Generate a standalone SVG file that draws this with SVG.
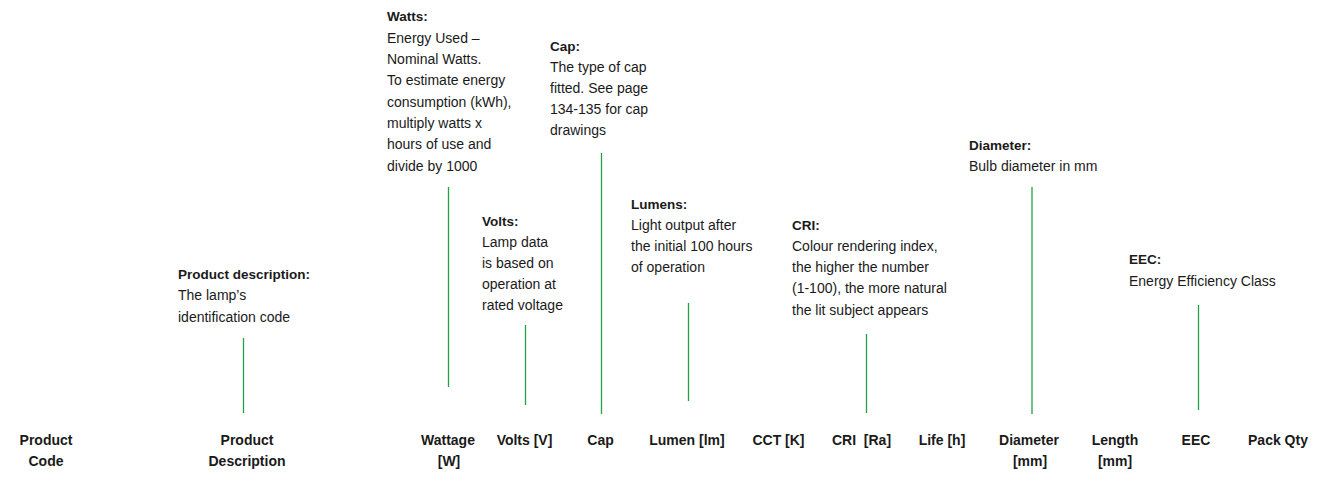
<svg xmlns="http://www.w3.org/2000/svg" width="1322" height="489" viewBox="0 0 1322 489">
<style>
.t{font-family:"Liberation Sans",Arial,sans-serif;font-size:13.5px;font-weight:bold;fill:#1a1a1a}
.d{font-family:"Liberation Sans",Arial,sans-serif;font-size:14px;fill:#1a1a1a}
.h{font-family:"Liberation Sans",Arial,sans-serif;font-size:14px;font-weight:bold;fill:#1a1a1a;text-anchor:middle}
.c{stroke:#22a045;stroke-width:1.3;fill:none}
</style>
<rect width="1322" height="489" fill="#ffffff"/>
<g id="callout-product-description">
<text class="t" x="178" y="279">Product description:</text>
<text class="d" x="178" y="300">The lamp’s</text>
<text class="d" x="178" y="322">identification code</text>
</g>
<g id="callout-watts">
<text class="t" x="387" y="21">Watts:</text>
<text class="d" x="387" y="43">Energy Used –</text>
<text class="d" x="387" y="64">Nominal Watts.</text>
<text class="d" x="387" y="85">To estimate energy</text>
<text class="d" x="387" y="107">consumption (kWh),</text>
<text class="d" x="387" y="128">multiply watts x</text>
<text class="d" x="387" y="149">hours of use and</text>
<text class="d" x="387" y="171">divide by 1000</text>
</g>
<g id="callout-cap">
<text class="t" x="550" y="51">Cap:</text>
<text class="d" x="550" y="72">The type of cap</text>
<text class="d" x="550" y="93">fitted. See page</text>
<text class="d" x="550" y="114">134-135 for cap</text>
<text class="d" x="550" y="135">drawings</text>
</g>
<g id="callout-volts">
<text class="t" x="482" y="226">Volts:</text>
<text class="d" x="482" y="247">Lamp data</text>
<text class="d" x="482" y="268">is based on</text>
<text class="d" x="482" y="289">operation at</text>
<text class="d" x="482" y="310">rated voltage</text>
</g>
<g id="callout-lumens">
<text class="t" x="631" y="209">Lumens:</text>
<text class="d" x="631" y="230">Light output after</text>
<text class="d" x="631" y="251">the initial 100 hours</text>
<text class="d" x="631" y="272">of operation</text>
</g>
<g id="callout-cri">
<text class="t" x="792" y="230">CRI:</text>
<text class="d" x="792" y="251">Colour rendering index,</text>
<text class="d" x="792" y="272">the higher the number</text>
<text class="d" x="792" y="293">(1-100), the more natural</text>
<text class="d" x="792" y="315">the lit subject appears</text>
</g>
<g id="callout-diameter">
<text class="t" x="969" y="150">Diameter:</text>
<text class="d" x="969" y="171">Bulb diameter in mm</text>
</g>
<g id="callout-eec">
<text class="t" x="1129" y="264">EEC:</text>
<text class="d" x="1129" y="286">Energy Efficiency Class</text>
</g>
<g id="connectors">
<line class="c" x1="243.5" y1="338" x2="243.5" y2="413"/>
<line class="c" x1="448.5" y1="187" x2="448.5" y2="387"/>
<line class="c" x1="525.5" y1="325" x2="525.5" y2="405"/>
<line class="c" x1="601.5" y1="153" x2="601.5" y2="414"/>
<line class="c" x1="688.5" y1="303" x2="688.5" y2="401"/>
<line class="c" x1="866.5" y1="334" x2="866.5" y2="413"/>
<line class="c" x1="1032" y1="187" x2="1032" y2="414"/>
<line class="c" x1="1198.5" y1="305" x2="1198.5" y2="410"/>
</g>
<g id="header-product-code"><text class="h" x="46" y="445">Product</text><text class="h" x="46" y="466">Code</text></g>
<g id="header-product-description"><text class="h" x="247" y="445">Product</text><text class="h" x="247" y="466">Description</text></g>
<g id="header-wattage"><text class="h" x="448" y="445">Wattage</text><text class="h" x="449" y="466">[W]</text></g>
<g id="header-volts"><text class="h" x="524.5" y="445">Volts [V]</text></g>
<g id="header-cap"><text class="h" x="600.5" y="445">Cap</text></g>
<g id="header-lumen"><text class="h" x="687" y="445">Lumen [lm]</text></g>
<g id="header-cct"><text class="h" x="778.5" y="445">CCT [K]</text></g>
<g id="header-cri"><text class="h" x="861.5" y="445" xml:space="preserve">CRI  [Ra]</text></g>
<g id="header-life"><text class="h" x="942" y="445">Life [h]</text></g>
<g id="header-diameter"><text class="h" x="1029" y="445">Diameter</text><text class="h" x="1030" y="466">[mm]</text></g>
<g id="header-length"><text class="h" x="1115" y="445">Length</text><text class="h" x="1115" y="466">[mm]</text></g>
<g id="header-eec"><text class="h" x="1196" y="445">EEC</text></g>
<g id="header-pack-qty"><text class="h" x="1278" y="445">Pack Qty</text></g>
</svg>
